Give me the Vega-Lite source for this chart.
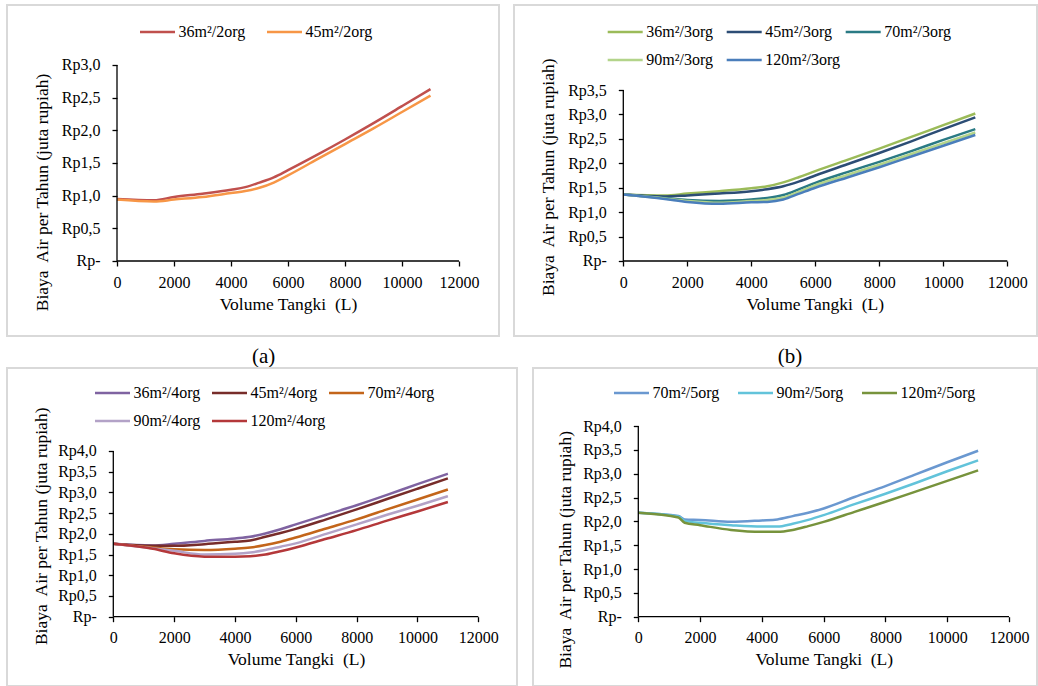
{
"$schema": "https://vega.github.io/schema/vega-lite/v6.json",
"padding": {"left": 6, "top": 4, "right": 0, "bottom": 0},
"background": "white",
"config": {
  "view": {"stroke": "#d9d9d9", "strokeWidth": 2},
  "axis": {"domain": false, "grid": false, "ticks": true, "tickCount": 30, "tickColor": "black", "tickWidth": 1.3, "tickSize": 5, "labelFont": "Liberation Serif, Times New Roman, serif", "labelFontSize": 16, "labelColor": "black", "labelFlush": false, "labelOverlap": false, "titleFont": "Liberation Serif, Times New Roman, serif", "titleFontSize": 17.5, "titleFontWeight": "normal", "titleColor": "black", "titleBaseline": "middle", "titleAlign": "center"},
  "axisX": {"labelPadding": 8, "format": "d"},
  "axisY": {"labelPadding": 12},
  "legend": {"orient": "none", "direction": "horizontal", "title": null, "symbolType": "stroke", "symbolSize": 1225, "symbolStrokeWidth": 2.5, "labelFont": "Liberation Serif, Times New Roman, serif", "labelFontSize": 16, "labelColor": "black", "labelOffset": 2, "rowPadding": 8, "clipHeight": 20, "padding": 0, "labelLimit": 300},
  "title": {"font": "Liberation Serif, Times New Roman, serif", "fontSize": 21, "fontWeight": "normal", "color": "black", "orient": "bottom", "offset": 10, "baseline": "top"},
  "line": {"strokeWidth": 2.5, "interpolate": "monotone"},
  "rule": {"color": "black", "strokeWidth": 1.3}
},
"datasets": {
  "one": [{}],
  "a": [
    {"v":0,"c":0.95,"s":"36m²/2org"},{"v":1300,"c":0.93,"s":"36m²/2org"},{"v":2000,"c":0.98,"s":"36m²/2org"},{"v":3000,"c":1.03,"s":"36m²/2org"},{"v":4000,"c":1.09,"s":"36m²/2org"},{"v":4500,"c":1.13,"s":"36m²/2org"},{"v":5000,"c":1.20,"s":"36m²/2org"},{"v":5500,"c":1.28,"s":"36m²/2org"},{"v":6000,"c":1.39,"s":"36m²/2org"},{"v":7000,"c":1.62,"s":"36m²/2org"},{"v":8000,"c":1.86,"s":"36m²/2org"},{"v":9000,"c":2.11,"s":"36m²/2org"},{"v":10000,"c":2.37,"s":"36m²/2org"},{"v":11000,"c":2.63,"s":"36m²/2org"},
    {"v":0,"c":0.94,"s":"45m²/2org"},{"v":1300,"c":0.91,"s":"45m²/2org"},{"v":2000,"c":0.94,"s":"45m²/2org"},{"v":3000,"c":0.98,"s":"45m²/2org"},{"v":4000,"c":1.04,"s":"45m²/2org"},{"v":4500,"c":1.07,"s":"45m²/2org"},{"v":5000,"c":1.12,"s":"45m²/2org"},{"v":5500,"c":1.20,"s":"45m²/2org"},{"v":6000,"c":1.31,"s":"45m²/2org"},{"v":7000,"c":1.55,"s":"45m²/2org"},{"v":8000,"c":1.79,"s":"45m²/2org"},{"v":9000,"c":2.03,"s":"45m²/2org"},{"v":10000,"c":2.28,"s":"45m²/2org"},{"v":11000,"c":2.53,"s":"45m²/2org"}
  ],
  "b": [
    {"v":0,"c":1.36,"s":"36m²/3org"},{"v":1300,"c":1.34,"s":"36m²/3org"},{"v":2000,"c":1.38,"s":"36m²/3org"},{"v":3000,"c":1.43,"s":"36m²/3org"},{"v":4000,"c":1.49,"s":"36m²/3org"},{"v":4500,"c":1.53,"s":"36m²/3org"},{"v":5000,"c":1.61,"s":"36m²/3org"},{"v":5500,"c":1.72,"s":"36m²/3org"},{"v":6000,"c":1.84,"s":"36m²/3org"},{"v":7000,"c":2.07,"s":"36m²/3org"},{"v":8000,"c":2.30,"s":"36m²/3org"},{"v":9000,"c":2.54,"s":"36m²/3org"},{"v":10000,"c":2.78,"s":"36m²/3org"},{"v":11000,"c":3.02,"s":"36m²/3org"},
    {"v":0,"c":1.36,"s":"45m²/3org"},{"v":1300,"c":1.32,"s":"45m²/3org"},{"v":2000,"c":1.34,"s":"45m²/3org"},{"v":3000,"c":1.38,"s":"45m²/3org"},{"v":4000,"c":1.43,"s":"45m²/3org"},{"v":4500,"c":1.47,"s":"45m²/3org"},{"v":5000,"c":1.53,"s":"45m²/3org"},{"v":5500,"c":1.63,"s":"45m²/3org"},{"v":6000,"c":1.75,"s":"45m²/3org"},{"v":7000,"c":1.98,"s":"45m²/3org"},{"v":8000,"c":2.21,"s":"45m²/3org"},{"v":9000,"c":2.45,"s":"45m²/3org"},{"v":10000,"c":2.70,"s":"45m²/3org"},{"v":11000,"c":2.94,"s":"45m²/3org"},
    {"v":0,"c":1.36,"s":"70m²/3org"},{"v":1300,"c":1.29,"s":"70m²/3org"},{"v":2000,"c":1.25,"s":"70m²/3org"},{"v":3000,"c":1.23,"s":"70m²/3org"},{"v":4000,"c":1.26,"s":"70m²/3org"},{"v":4500,"c":1.29,"s":"70m²/3org"},{"v":5000,"c":1.35,"s":"70m²/3org"},{"v":5500,"c":1.47,"s":"70m²/3org"},{"v":6000,"c":1.60,"s":"70m²/3org"},{"v":7000,"c":1.82,"s":"70m²/3org"},{"v":8000,"c":2.03,"s":"70m²/3org"},{"v":9000,"c":2.25,"s":"70m²/3org"},{"v":10000,"c":2.48,"s":"70m²/3org"},{"v":11000,"c":2.70,"s":"70m²/3org"},
    {"v":0,"c":1.36,"s":"90m²/3org"},{"v":1300,"c":1.28,"s":"90m²/3org"},{"v":2000,"c":1.23,"s":"90m²/3org"},{"v":3000,"c":1.19,"s":"90m²/3org"},{"v":4000,"c":1.23,"s":"90m²/3org"},{"v":4500,"c":1.25,"s":"90m²/3org"},{"v":5000,"c":1.30,"s":"90m²/3org"},{"v":5500,"c":1.42,"s":"90m²/3org"},{"v":6000,"c":1.55,"s":"90m²/3org"},{"v":7000,"c":1.76,"s":"90m²/3org"},{"v":8000,"c":1.97,"s":"90m²/3org"},{"v":9000,"c":2.19,"s":"90m²/3org"},{"v":10000,"c":2.41,"s":"90m²/3org"},{"v":11000,"c":2.63,"s":"90m²/3org"},
    {"v":0,"c":1.36,"s":"120m²/3org"},{"v":1300,"c":1.27,"s":"120m²/3org"},{"v":2000,"c":1.21,"s":"120m²/3org"},{"v":3000,"c":1.17,"s":"120m²/3org"},{"v":4000,"c":1.20,"s":"120m²/3org"},{"v":4500,"c":1.21,"s":"120m²/3org"},{"v":5000,"c":1.26,"s":"120m²/3org"},{"v":5500,"c":1.38,"s":"120m²/3org"},{"v":6000,"c":1.50,"s":"120m²/3org"},{"v":7000,"c":1.71,"s":"120m²/3org"},{"v":8000,"c":1.92,"s":"120m²/3org"},{"v":9000,"c":2.14,"s":"120m²/3org"},{"v":10000,"c":2.36,"s":"120m²/3org"},{"v":11000,"c":2.58,"s":"120m²/3org"}
  ],
  "c": [
    {"v":0,"c":1.76,"s":"36m²/4org"},{"v":1300,"c":1.72,"s":"36m²/4org"},{"v":2000,"c":1.76,"s":"36m²/4org"},{"v":3000,"c":1.83,"s":"36m²/4org"},{"v":4000,"c":1.89,"s":"36m²/4org"},{"v":4500,"c":1.93,"s":"36m²/4org"},{"v":5000,"c":2.01,"s":"36m²/4org"},{"v":5500,"c":2.11,"s":"36m²/4org"},{"v":6000,"c":2.23,"s":"36m²/4org"},{"v":7000,"c":2.46,"s":"36m²/4org"},{"v":8000,"c":2.69,"s":"36m²/4org"},{"v":9000,"c":2.94,"s":"36m²/4org"},{"v":10000,"c":3.20,"s":"36m²/4org"},{"v":11000,"c":3.45,"s":"36m²/4org"},
    {"v":0,"c":1.76,"s":"45m²/4org"},{"v":1300,"c":1.71,"s":"45m²/4org"},{"v":2000,"c":1.71,"s":"45m²/4org"},{"v":3000,"c":1.75,"s":"45m²/4org"},{"v":4000,"c":1.81,"s":"45m²/4org"},{"v":4500,"c":1.84,"s":"45m²/4org"},{"v":5000,"c":1.93,"s":"45m²/4org"},{"v":5500,"c":2.02,"s":"45m²/4org"},{"v":6000,"c":2.12,"s":"45m²/4org"},{"v":7000,"c":2.35,"s":"45m²/4org"},{"v":8000,"c":2.59,"s":"45m²/4org"},{"v":9000,"c":2.84,"s":"45m²/4org"},{"v":10000,"c":3.09,"s":"45m²/4org"},{"v":11000,"c":3.34,"s":"45m²/4org"},
    {"v":0,"c":1.76,"s":"70m²/4org"},{"v":1300,"c":1.67,"s":"70m²/4org"},{"v":2000,"c":1.63,"s":"70m²/4org"},{"v":3000,"c":1.61,"s":"70m²/4org"},{"v":4000,"c":1.64,"s":"70m²/4org"},{"v":4500,"c":1.67,"s":"70m²/4org"},{"v":5000,"c":1.73,"s":"70m²/4org"},{"v":5500,"c":1.81,"s":"70m²/4org"},{"v":6000,"c":1.91,"s":"70m²/4org"},{"v":7000,"c":2.13,"s":"70m²/4org"},{"v":8000,"c":2.35,"s":"70m²/4org"},{"v":9000,"c":2.59,"s":"70m²/4org"},{"v":10000,"c":2.83,"s":"70m²/4org"},{"v":11000,"c":3.07,"s":"70m²/4org"},
    {"v":0,"c":1.76,"s":"90m²/4org"},{"v":1300,"c":1.65,"s":"90m²/4org"},{"v":2000,"c":1.59,"s":"90m²/4org"},{"v":3000,"c":1.50,"s":"90m²/4org"},{"v":4000,"c":1.52,"s":"90m²/4org"},{"v":4500,"c":1.55,"s":"90m²/4org"},{"v":5000,"c":1.61,"s":"90m²/4org"},{"v":5500,"c":1.69,"s":"90m²/4org"},{"v":6000,"c":1.77,"s":"90m²/4org"},{"v":7000,"c":2.00,"s":"90m²/4org"},{"v":8000,"c":2.23,"s":"90m²/4org"},{"v":9000,"c":2.46,"s":"90m²/4org"},{"v":10000,"c":2.68,"s":"90m²/4org"},{"v":11000,"c":2.91,"s":"90m²/4org"},
    {"v":0,"c":1.76,"s":"120m²/4org"},{"v":1300,"c":1.64,"s":"120m²/4org"},{"v":2000,"c":1.53,"s":"120m²/4org"},{"v":3000,"c":1.45,"s":"120m²/4org"},{"v":4000,"c":1.45,"s":"120m²/4org"},{"v":4500,"c":1.46,"s":"120m²/4org"},{"v":5000,"c":1.50,"s":"120m²/4org"},{"v":5500,"c":1.58,"s":"120m²/4org"},{"v":6000,"c":1.67,"s":"120m²/4org"},{"v":7000,"c":1.88,"s":"120m²/4org"},{"v":8000,"c":2.09,"s":"120m²/4org"},{"v":9000,"c":2.32,"s":"120m²/4org"},{"v":10000,"c":2.54,"s":"120m²/4org"},{"v":11000,"c":2.77,"s":"120m²/4org"}
  ],
  "d": [
    {"v":0,"c":2.18,"s":"70m²/5org"},{"v":1300,"c":2.11,"s":"70m²/5org"},{"v":1500,"c":2.04,"s":"70m²/5org"},{"v":2000,"c":2.03,"s":"70m²/5org"},{"v":3000,"c":1.99,"s":"70m²/5org"},{"v":4000,"c":2.02,"s":"70m²/5org"},{"v":4500,"c":2.04,"s":"70m²/5org"},{"v":5000,"c":2.11,"s":"70m²/5org"},{"v":5500,"c":2.18,"s":"70m²/5org"},{"v":6000,"c":2.27,"s":"70m²/5org"},{"v":7000,"c":2.51,"s":"70m²/5org"},{"v":8000,"c":2.74,"s":"70m²/5org"},{"v":9000,"c":2.99,"s":"70m²/5org"},{"v":10000,"c":3.24,"s":"70m²/5org"},{"v":11000,"c":3.48,"s":"70m²/5org"},
    {"v":0,"c":2.18,"s":"90m²/5org"},{"v":1300,"c":2.10,"s":"90m²/5org"},{"v":1500,"c":2.01,"s":"90m²/5org"},{"v":2000,"c":1.97,"s":"90m²/5org"},{"v":3000,"c":1.92,"s":"90m²/5org"},{"v":4000,"c":1.89,"s":"90m²/5org"},{"v":4500,"c":1.89,"s":"90m²/5org"},{"v":5000,"c":1.95,"s":"90m²/5org"},{"v":5500,"c":2.03,"s":"90m²/5org"},{"v":6000,"c":2.13,"s":"90m²/5org"},{"v":7000,"c":2.36,"s":"90m²/5org"},{"v":8000,"c":2.58,"s":"90m²/5org"},{"v":9000,"c":2.81,"s":"90m²/5org"},{"v":10000,"c":3.05,"s":"90m²/5org"},{"v":11000,"c":3.28,"s":"90m²/5org"},
    {"v":0,"c":2.18,"s":"120m²/5org"},{"v":1300,"c":2.08,"s":"120m²/5org"},{"v":1500,"c":1.97,"s":"120m²/5org"},{"v":2000,"c":1.92,"s":"120m²/5org"},{"v":3000,"c":1.82,"s":"120m²/5org"},{"v":4000,"c":1.78,"s":"120m²/5org"},{"v":4500,"c":1.78,"s":"120m²/5org"},{"v":5000,"c":1.82,"s":"120m²/5org"},{"v":5500,"c":1.90,"s":"120m²/5org"},{"v":6000,"c":1.99,"s":"120m²/5org"},{"v":7000,"c":2.20,"s":"120m²/5org"},{"v":8000,"c":2.41,"s":"120m²/5org"},{"v":9000,"c":2.63,"s":"120m²/5org"},{"v":10000,"c":2.85,"s":"120m²/5org"},{"v":11000,"c":3.07,"s":"120m²/5org"}
  ]
},
"spacing": -2,
"resolve": {"scale": {"x": "independent", "y": "independent", "color": "independent"}, "legend": {"color": "independent"}},
"vconcat": [
 {
  "bounds": "flush",
  "spacing": 15,
  "resolve": {"scale": {"x": "independent", "y": "independent", "color": "independent"}, "legend": {"color": "independent"}},
  "hconcat": [
   {
    "width": 492, "height": 331,
    "title": {"text": "(a)", "dx": 10.7},
    "layer": [
     {"data": {"name": "a"}, "mark": {"type": "line"},
      "encoding": {
       "x": {"field": "v", "type": "quantitative", "scale": {"domain": [-3859.6, 13403.5], "nice": false, "zero": false},
             "axis": {"values": [0,2000,4000,6000,8000,10000,12000], "tickCount": 30, "offset": -75, "title": "Volume Tangki\u00a0 (L)", "titleX": 281, "titleY": 43}},
       "y": {"field": "c", "type": "quantitative", "scale": {"domain": [-1.148, 3.918], "nice": false, "zero": false},
             "axis": {"values": [0,0.5,1,1.5,2,2.5,3], "tickCount": 30, "labelOverlap": false, "offset": -110, "labelExpr": "datum.value == 0 ? 'Rp-' : 'Rp' + replace(format(datum.value, '.1f'), '.', ',')", "title": "Biaya\u00a0 Air per Tahun (juta rupiah)", "titleX": -75, "titleY": 187}},
       "color": {"field": "s", "type": "nominal", "scale": {"domain": ["36m²/2org", "45m²/2org"], "range": ["#c0504d", "#f79646"]},
                 "legend": {"legendX": 131.5, "legendY": 17, "columns": 2, "columnPadding": 20}}
      }},
     {"data": {"name": "one"}, "mark": {"type": "rule"}, "encoding": {"x": {"datum": 0, "type": "quantitative"}, "y": {"datum": 0, "type": "quantitative"}, "y2": {"datum": 3}}},
     {"data": {"name": "one"}, "mark": {"type": "rule"}, "encoding": {"y": {"datum": 0, "type": "quantitative"}, "x": {"datum": 0, "type": "quantitative"}, "x2": {"datum": 12000}}}
    ]
   },
   {
    "width": 523, "height": 331,
    "title": {"text": "(b)", "dx": 14.5},
    "layer": [
     {"data": {"name": "b"}, "mark": {"type": "line"},
      "encoding": {
       "x": {"field": "v", "type": "quantitative", "scale": {"domain": [-3415.6, 12928.1], "nice": false, "zero": false},
             "axis": {"values": [0,2000,4000,6000,8000,10000,12000], "tickCount": 30, "offset": -75, "title": "Volume Tangki\u00a0 (L)", "titleX": 300.7, "titleY": 43}},
       "y": {"field": "c", "type": "quantitative", "scale": {"domain": [-1.5351, 5.2398], "nice": false, "zero": false},
             "axis": {"values": [0,0.5,1,1.5,2,2.5,3,3.5], "tickCount": 30, "labelOverlap": false, "offset": -109.3, "labelExpr": "datum.value == 0 ? 'Rp-' : 'Rp' + replace(format(datum.value, '.1f'), '.', ',')", "title": "Biaya\u00a0 Air per Tahun (juta rupiah)", "titleX": -75, "titleY": 171.7}},
       "color": {"field": "s", "type": "nominal", "scale": {"domain": ["36m²/3org", "45m²/3org", "70m²/3org", "90m²/3org", "120m²/3org"], "range": ["#9bbb59", "#2c4d75", "#2a7a84", "#b3d48a", "#4a7ebb"]},
                 "legend": {"legendX": 92.2, "legendY": 17, "columns": 3, "columnPadding": 4, "gridAlign": "all"}}
      }},
     {"data": {"name": "one"}, "mark": {"type": "rule"}, "encoding": {"x": {"datum": 0, "type": "quantitative"}, "y": {"datum": 0, "type": "quantitative"}, "y2": {"datum": 3.5}}},
     {"data": {"name": "one"}, "mark": {"type": "rule"}, "encoding": {"y": {"datum": 0, "type": "quantitative"}, "x": {"datum": 0, "type": "quantitative"}, "x2": {"datum": 12000}}}
    ]
   }
  ]
 },
 {
  "bounds": "flush",
  "spacing": 16,
  "resolve": {"scale": {"x": "independent", "y": "independent", "color": "independent"}, "legend": {"color": "independent"}},
  "hconcat": [
   {
    "width": 510, "height": 318,
    "layer": [
     {"data": {"name": "c"}, "mark": {"type": "line"},
      "encoding": {
       "x": {"field": "v", "type": "quantitative", "scale": {"domain": [-3494.8, 13272.5], "nice": false, "zero": false},
             "axis": {"values": [0,2000,4000,6000,8000,10000,12000], "tickCount": 30, "offset": -69.3, "title": "Volume Tangki\u00a0 (L)", "titleX": 289, "titleY": 42.6}},
       "y": {"field": "c", "type": "quantitative", "scale": {"domain": [-1.6729, 6.0036], "nice": false, "zero": false},
             "axis": {"values": [0,0.5,1,1.5,2,2.5,3,3.5,4], "tickCount": 30, "labelOverlap": false, "offset": -106.3, "labelExpr": "datum.value == 0 ? 'Rp-' : 'Rp' + replace(format(datum.value, '.1f'), '.', ',')", "title": "Biaya\u00a0 Air per Tahun (juta rupiah)", "titleX": -71.6, "titleY": 157.8}},
       "color": {"field": "s", "type": "nominal", "scale": {"domain": ["36m²/4org", "45m²/4org", "70m²/4org", "90m²/4org", "120m²/4org"], "range": ["#7f63a1", "#772c2a", "#c3651a", "#b3a2c7", "#b4383a"]},
                 "legend": {"legendX": 86.5, "legendY": 15, "columns": 3, "columnPadding": 2, "gridAlign": "all"}}
      }},
     {"data": {"name": "one"}, "mark": {"type": "rule"}, "encoding": {"x": {"datum": 0, "type": "quantitative"}, "y": {"datum": 0, "type": "quantitative"}, "y2": {"datum": 4}}},
     {"data": {"name": "one"}, "mark": {"type": "rule"}, "encoding": {"y": {"datum": 0, "type": "quantitative"}, "x": {"datum": 0, "type": "quantitative"}, "x2": {"datum": 12000}}}
    ]
   },
   {
    "width": 504, "height": 318,
    "layer": [
     {"data": {"name": "d"}, "mark": {"type": "line"},
      "encoding": {
       "x": {"field": "v", "type": "quantitative", "scale": {"domain": [-3408.7, 12906.3], "nice": false, "zero": false},
             "axis": {"values": [0,2000,4000,6000,8000,10000,12000], "tickCount": 30, "offset": -69.3, "title": "Volume Tangki\u00a0 (L)", "titleX": 290.8, "titleY": 42.6}},
       "y": {"field": "c", "type": "quantitative", "scale": {"domain": [-1.4536, 5.2166], "nice": false, "zero": false},
             "axis": {"values": [0,0.5,1,1.5,2,2.5,3,3.5,4], "tickCount": 30, "labelOverlap": false, "offset": -105.3, "labelExpr": "datum.value == 0 ? 'Rp-' : 'Rp' + replace(format(datum.value, '.1f'), '.', ',')", "title": "Biaya\u00a0 Air per Tahun (juta rupiah)", "titleX": -72.5, "titleY": 181.3}},
       "color": {"field": "s", "type": "nominal", "scale": {"domain": ["70m²/5org", "90m²/5org", "120m²/5org"], "range": ["#6a98d0", "#62c3da", "#77933c"]},
                 "legend": {"legendX": 79.5, "legendY": 15, "columns": 3, "columnPadding": 17}}
      }},
     {"data": {"name": "one"}, "mark": {"type": "rule"}, "encoding": {"x": {"datum": 0, "type": "quantitative"}, "y": {"datum": 0, "type": "quantitative"}, "y2": {"datum": 4}}},
     {"data": {"name": "one"}, "mark": {"type": "rule"}, "encoding": {"y": {"datum": 0, "type": "quantitative"}, "x": {"datum": 0, "type": "quantitative"}, "x2": {"datum": 12000}}}
    ]
   }
  ]
 }
]
}
